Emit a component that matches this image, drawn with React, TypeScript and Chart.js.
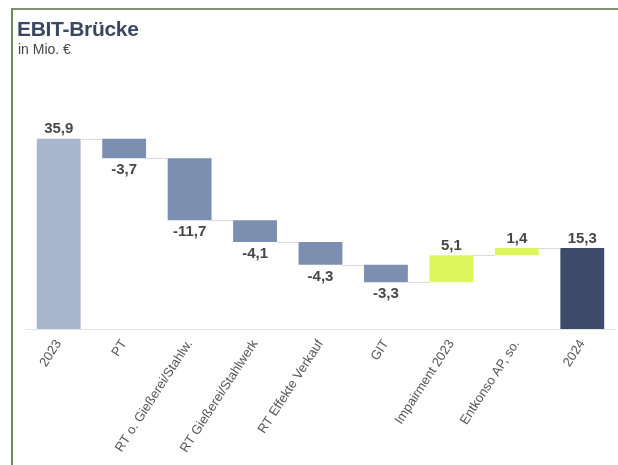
import React, { useEffect, useRef } from "react";
import { Chart, registerables } from "chart.js";

Chart.register(...registerables);

const categories = [
  "2023",
  "PT",
  "RT o. Gießerei/Stahlw.",
  "RT Gießerei/Stahlwerk",
  "RT Effekte Verkauf",
  "GIT",
  "Impairment 2023",
  "Entkonso AP, so.",
  "2024",
];
const values = [35.9, -3.7, -11.7, -4.1, -4.3, -3.3, 5.1, 1.4, 15.3];
const isTotal = [true, false, false, false, false, false, false, false, true];
const valueLabels = ["35,9", "-3,7", "-11,7", "-4,1", "-4,3", "-3,3", "5,1", "1,4", "15,3"];

const COL_START = "#a9b5cc";
const COL_NEG = "#7d8fb1";
const COL_POS = "#ddf65c";
const COL_END = "#3e4b6a";

function buildRanges() {
  const ranges: [number, number][] = [];
  const ends: number[] = [];
  let cum = 0;
  values.forEach((v, i) => {
    if (isTotal[i]) {
      ranges.push([0, v]);
      cum = v;
    } else {
      const start = cum;
      cum = Math.round((cum + v) * 10) / 10;
      ranges.push([Math.min(start, cum), Math.max(start, cum)]);
    }
    ends.push(cum);
  });
  return { ranges, ends };
}

export default function App() {
  const ref = useRef<HTMLCanvasElement | null>(null);

  useEffect(() => {
    const { ranges, ends } = buildRanges();
    const colors = values.map((v, i) =>
      i === 0 ? COL_START : i === values.length - 1 ? COL_END : v < 0 ? COL_NEG : COL_POS
    );

    const overlay = {
      id: "overlay",
      afterDatasetsDraw(chart: any) {
        const ctx = chart.ctx;
        const meta = chart.getDatasetMeta(0);
        const y = chart.scales.y;
        ctx.save();
        ctx.strokeStyle = "#d6d9de";
        ctx.lineWidth = 1;
        for (let i = 0; i < meta.data.length - 1; i++) {
          const a = meta.data[i];
          const b = meta.data[i + 1];
          const yy = Math.round(y.getPixelForValue(ends[i])) + 0.5;
          ctx.beginPath();
          ctx.moveTo(a.x + a.width / 2, yy);
          ctx.lineTo(b.x - b.width / 2, yy);
          ctx.stroke();
        }
        ctx.fillStyle = "#474747";
        ctx.font = "bold 15px 'Liberation Sans', Arial, sans-serif";
        ctx.textAlign = "center";
        meta.data.forEach((el: any, i: number) => {
          const r = ranges[i];
          if (values[i] >= 0) {
            ctx.textBaseline = "bottom";
            ctx.fillText(valueLabels[i], el.x, y.getPixelForValue(r[1]) - 2);
          } else {
            ctx.textBaseline = "top";
            ctx.fillText(valueLabels[i], el.x, y.getPixelForValue(r[0]) + 4);
          }
        });
        ctx.restore();
      },
    };

    const chart = new Chart(ref.current!, {
      type: "bar",
      data: {
        labels: categories,
        datasets: [
          {
            data: ranges as any,
            backgroundColor: colors,
            borderWidth: 0,
            barPercentage: 0.67,
            categoryPercentage: 1,
          },
        ],
      },
      options: {
        responsive: false,
        animation: false,
        layout: { padding: { left: 26, right: 3, top: 117, bottom: 0 } },
        plugins: { legend: { display: false }, tooltip: { enabled: false } },
        scales: {
          x: {
            grid: { display: false, drawTicks: false },
            border: { display: true, color: "#e2e4e8", width: 1 },
            ticks: {
              color: "#555",
              font: { family: "'Liberation Sans', Arial, sans-serif", size: 13 },
              maxRotation: 57,
              minRotation: 57,
              padding: 8,
              autoSkip: false,
            },
            afterFit: (s: any) => {
              s.height = 136;
            },
          },
          y: {
            display: false,
            min: 0,
            max: 40,
          },
        },
      },
      plugins: [overlay],
    });
    return () => chart.destroy();
  }, []);

  return (
    <div
      style={{
        position: "fixed",
        left: 0,
        top: 0,
        width: 618,
        height: 465,
        background: "#fff",
        overflow: "hidden",
        fontFamily: "'Liberation Sans', Arial, sans-serif",
      }}
    >
      <div
        style={{
          position: "absolute",
          left: 11,
          top: 8,
          width: 605,
          height: 480,
          borderLeft: "2px solid #6b8a5c",
          borderTop: "2px solid #7d9272",
          borderRight: "1px solid #b9bcb6",
        }}
      />
      <canvas ref={ref} width={618} height={465} style={{ position: "absolute", left: 0, top: 0 }} />
      <div
        style={{
          position: "absolute",
          left: 17,
          top: 17,
          fontSize: 21,
          fontWeight: "bold",
          color: "#3a4763",
          letterSpacing: -0.3,
        }}
      >
        EBIT-Brücke
      </div>
      <div style={{ position: "absolute", left: 18, top: 41, fontSize: 14, color: "#444" }}>in Mio. €</div>
    </div>
  );
}
